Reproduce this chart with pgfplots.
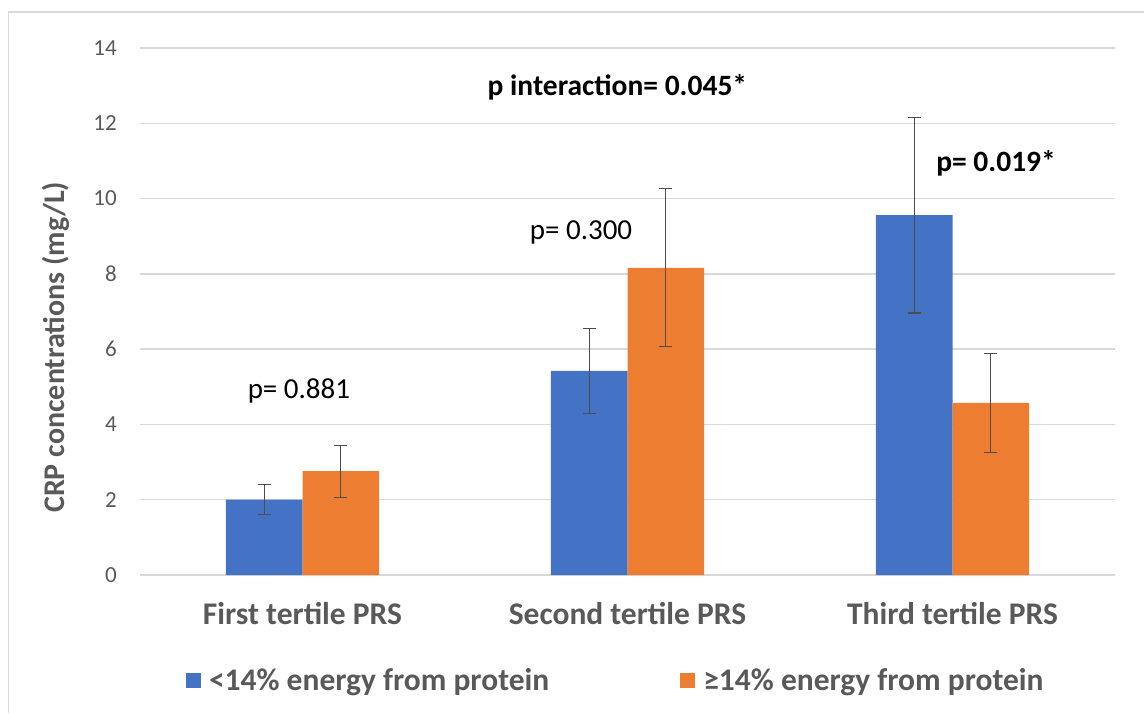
\documentclass[border=0pt]{standalone}
\usepackage{fontspec}
\setmainfont{Carlito}
\usepackage{pgfplots}
\pgfplotsset{compat=1.18}
\definecolor{barblue}{HTML}{4472C4}
\definecolor{barorange}{HTML}{ED7D31}
\definecolor{gridgray}{HTML}{D9D9D9}
\definecolor{textgray}{HTML}{595959}
\definecolor{errgray}{HTML}{4D4D4D}
\definecolor{bordergray}{HTML}{D9D9D9}
\begin{document}
\begin{tikzpicture}
\path[use as bounding box] (0pt,0pt) rectangle (1144pt,713pt);
\draw[bordergray, line width=1.5pt] (8.5pt,0pt) -- (8.5pt,701pt) -- (1144pt,701pt);
\begin{axis}[
  at={(140pt,138pt)}, anchor=south west,
  scale only axis, width=975pt, height=527pt,
  ybar, bar width=0.236,
  xmin=-0.5, xmax=2.5, ymin=0, ymax=14,
  enlargelimits=false,
  xtick={0,1,2},
  xticklabels={First tertile PRS, Second tertile PRS, Third tertile PRS},
  ytick={0,2,...,14},
  ymajorgrids, grid style={gridgray, line width=1.3pt},
  axis line style={draw=none},
  major tick length=0pt,
  /pgf/number format/assume math mode=true,
  yticklabel style={font=\fontsize{23}{27}\selectfont, text=textgray, anchor=east, inner sep=0pt, xshift=-23pt},
  xticklabel style={font=\fontsize{31.5}{37}\selectfont\bfseries, text=textgray, anchor=base, inner sep=0pt, yshift=-49pt},
  ylabel={CRP concentrations (mg/L)},
  ylabel style={font=\fontsize{30}{36}\selectfont\bfseries, text=textgray, at={(axis description cs:-0.086,0.432)}, anchor=center, rotate=0},
  legend style={at={(0.488,-0.2)}, anchor=center, draw=none, fill=none,
    legend columns=2, font=\fontsize{31.5}{37}\selectfont\bfseries, text=textgray,
    /tikz/every odd column/.append style={column sep=6pt},
    /tikz/every even column/.append style={column sep=129pt}},
  legend cell align=left,
  legend image code/.code={\fill[#1] (0pt,-7.5pt) rectangle (15pt,7.5pt);},
  error bars/y dir=both, error bars/y explicit,
  error bars/error bar style={errgray, line width=1.1pt},
  error bars/error mark options={rotate=90, mark size=6.5pt, errgray, line width=1.1pt},
]
\addplot[fill=barblue, draw=none, bar shift=-0.118] table[x=x, y=y, y error=e] {
x y e
0 2.00 0.40
1 5.42 1.12
2 9.56 2.60
};
\addplot[fill=barorange, draw=none, bar shift=0.118] table[x=x, y=y, y error=e] {
x y e
0 2.76 0.69
1 8.16 2.10
2 4.57 1.31
};
\legend{<14\% energy from protein, ≥14\% energy from protein}
\node[font=\fontsize{29.5}{34}\selectfont\bfseries, anchor=center] at (axis cs:0.969,12.96) {p interaction= 0.045*};
\node[font=\fontsize{29}{34}\selectfont, anchor=center] at (axis cs:-0.011,4.89) {p= 0.881};
\node[font=\fontsize{29}{34}\selectfont, anchor=center] at (axis cs:0.857,9.09) {p= 0.300};
\node[font=\fontsize{29.5}{34}\selectfont\bfseries, anchor=center] at (axis cs:2.134,10.95) {p= 0.019*};
\end{axis}
\end{tikzpicture}
\end{document}
